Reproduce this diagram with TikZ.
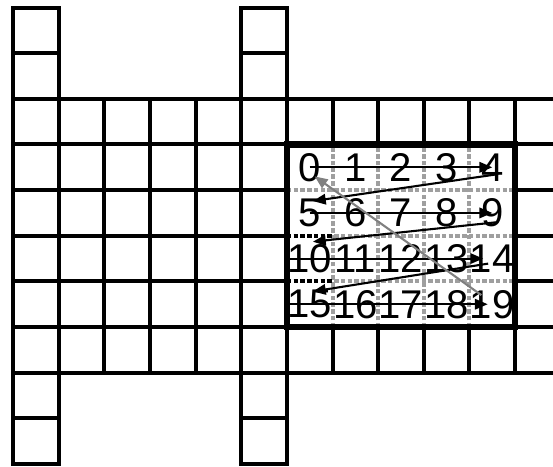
\documentclass[tikz,border=0pt]{standalone}
\usepackage{fontspec}
\setmainfont{Liberation Sans}
\usetikzlibrary{arrows.meta}

\begin{document}
\begin{tikzpicture}[>={Triangle[length=8pt,width=6.5pt]},
  cell/.style={line width=2.5pt},
  sub/.style={line width=2.5pt,gray!75,dash pattern=on 2.8pt off 1.4pt},
  num/.style={font=\fontsize{25}{25}\selectfont,inner sep=0pt},
  link/.style={->,line width=1.3pt}]
  \useasboundingbox (-0.285,-0.045) rectangle (11.83,10.165);

  % Horizontal band
  \foreach \y in {2,...,8} {
    \draw[cell] (0,\y) -- (11.83,\y);
  }
  \foreach \x in {0,...,11} {
    \draw[cell] (\x,2) -- (\x,8);
  }

  % Vertical columns
  \foreach \x in {0,5} {
    \draw[cell] (\x,0) rectangle (\x+1,10);
    \foreach \y in {1,9} {
      \draw[cell] (\x,\y) -- (\x+1,\y);
    }
  }

  % Block
  \fill[white] (6,3) rectangle (11,7);
  \foreach \x in {7,...,10} {
    \draw[sub] (\x,3) -- (\x,7);
  }
  \foreach \y in {4,5,6} {
    \draw[sub] (6,\y) -- (11,\y);
  }
  \foreach \y in {4,5} {
    \draw[sub,black] (6,\y) -- (7,\y);
  }
  \draw[line width=3.8pt] (6,3) rectangle (11,7);

  % Numbers
  \foreach \k in {0,...,19} {
    \pgfmathtruncatemacro\col{mod(\k,5)}
    \pgfmathtruncatemacro\row{floor(\k/5)}
    \node[num] (n\k) at (6.5+\col,6.5-\row) {\k};
  }

  % Scan order
  \draw[link] (n0.center) -- (n4.center);
  \draw[link] ([shift={(0.13,-0.15)}]n4.center) -- ([shift={(0.07,0.26)}]n5.center);
  \draw[link] (n5.center) -- (n9.center);
  \draw[link] ([shift={(0.13,-0.2)}]n9.center) -- ([shift={(0.07,0.37)}]n10.center);
  \draw[link] (n10.west) -- ([xshift=-0.2cm]n14.center);
  \draw[link] ([shift={(-0.09,-0.11)}]n14.center) -- ([shift={(0.07,0.28)}]n15.center);
  \draw[link] (n15.west) -- ([xshift=-0.1cm]n19.center);
  \draw[link,gray] ([shift={(-0.24,0.2)}]n19.center) -- ([shift={(0.11,-0.2)}]n0.center);
\end{tikzpicture}
\end{document}
